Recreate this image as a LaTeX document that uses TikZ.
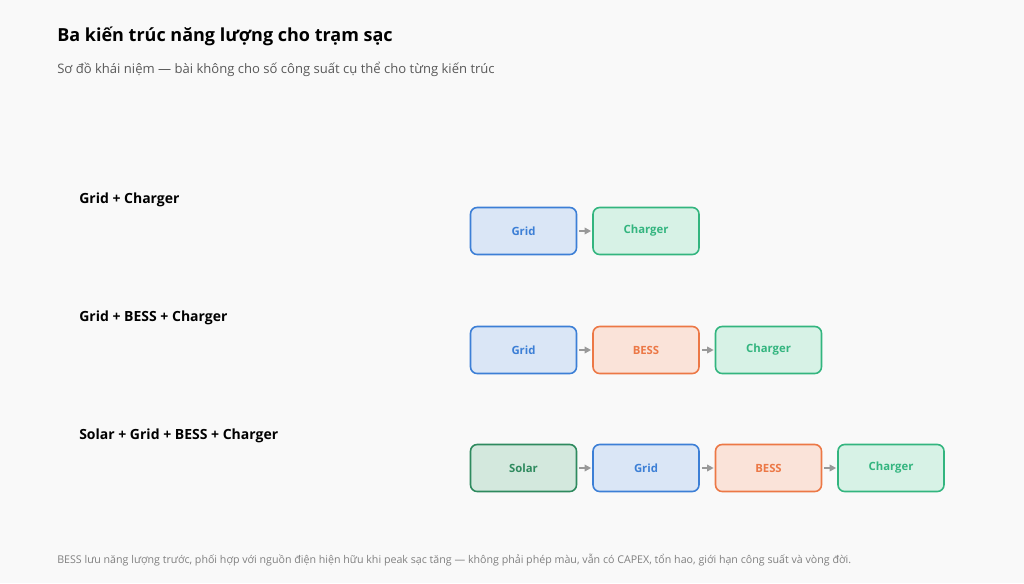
\documentclass[tikz,border=0pt]{standalone}
\usepackage{fontspec}
\setmainfont{Open Sans}
\usetikzlibrary{arrows.meta}
\definecolor{bg}{HTML}{F9F9F9}
\definecolor{gB}{HTML}{3C7FD6}\definecolor{gBf}{HTML}{DAE6F6}
\definecolor{cG}{HTML}{33B57F}\definecolor{cGf}{HTML}{D7F2E6}
\definecolor{bO}{HTML}{EC7846}\definecolor{bOf}{HTML}{FAE3D9}
\definecolor{sG}{HTML}{2E8A5E}\definecolor{sGf}{HTML}{D3E8DD}
\tikzset{
 box/.style={draw, line width=1.2pt, rounded corners=5pt, minimum width=79.5pt, minimum height=35.25pt, font=\fontsize{8.5}{10}\selectfont\bfseries, inner sep=0pt},
 grid/.style={box, draw=gB, fill=gBf, text=gB},
 chg/.style={box, draw=cG, fill=cGf, text=cG},
 bess/.style={box, draw=bO, fill=bOf, text=bO},
 sol/.style={box, draw=sG, fill=sGf, text=sG},
 arr/.style={-{Triangle[length=5pt,width=5pt]}, draw=gray!80, line width=1.2pt, shorten <=1.5pt, shorten >=0.75pt},
 lab/.style={anchor=west, font=\fontsize{10.5}{12}\selectfont\bfseries, inner sep=0pt}
}
\begin{document}
\begin{tikzpicture}[x=0.75pt,y=-0.75pt]
\fill[bg] (0,0) rectangle (1024,583);
\useasboundingbox (0,0) rectangle (1024,583);
\node[anchor=west,inner sep=0pt,font=\fontsize{13.5}{16}\selectfont\bfseries] (t) at (57,36) {Ba kiến trúc năng lượng cho trạm sạc};
\node[anchor=west,inner sep=0pt,font=\fontsize{9.8}{12}\selectfont,text=black!65] (s) at (57,69) {Sơ đồ khái niệm — bài không cho số công suất cụ thể cho từng kiến trúc};
\node[lab] (l1) at (79,200) {Grid + Charger};
\node[lab] (l2) at (79,318) {Grid + BESS + Charger};
\node[lab] (l3) at (79,436) {Solar + Grid + BESS + Charger};
\node[grid] (a1) at (523.5,231) {Grid};
\node[chg] (a2) at (646,231) {Charger};
\draw[arr] (a1) -- (a2);
\node[grid] (b1) at (523.5,350) {Grid};
\node[bess] (b2) at (646,350) {BESS};
\node[chg] (b3) at (768.5,350) {Charger};
\draw[arr] (b1) -- (b2); \draw[arr] (b2) -- (b3);
\node[sol] (c1) at (523.5,468) {Solar};
\node[grid] (c2) at (646,468) {Grid};
\node[bess] (c3) at (768.5,468) {BESS};
\node[chg] (c4) at (891,468) {Charger};
\draw[arr] (c1) -- (c2); \draw[arr] (c2) -- (c3); \draw[arr] (c3) -- (c4);
\node[anchor=west,inner sep=0pt,font=\fontsize{8}{10}\selectfont,text=black!50] (f) at (57,560) {BESS lưu năng lượng trước, phối hợp với nguồn điện hiện hữu khi peak sạc tăng — không phải phép màu, vẫn có CAPEX, tổn hao, giới hạn công suất và vòng đời.};
\end{tikzpicture}
\end{document}
